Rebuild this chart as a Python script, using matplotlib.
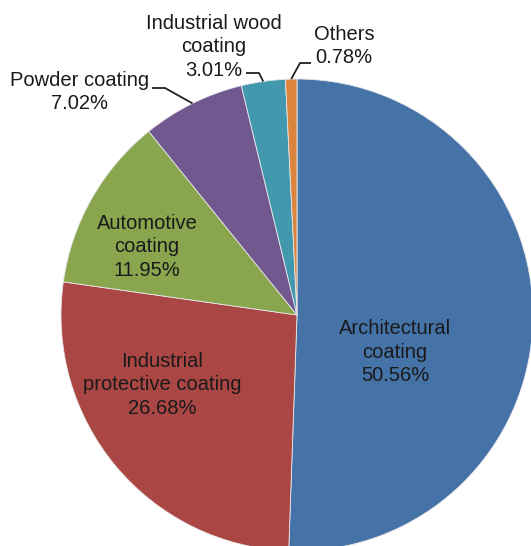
import numpy as np
import matplotlib
matplotlib.use("Agg")
import matplotlib.pyplot as plt

plt.rcParams['font.family'] = ['Liberation Sans', 'DejaVu Sans']

# coating market share, clockwise from 12 o'clock
categories = ["Architectural\ncoating", "Industrial\nprotective coating",
              "Automotive\ncoating", "Powder coating",
              "Industrial wood\ncoating", "Others"]
shares = [50.56, 26.68, 11.95, 7.02, 3.01, 0.78]
colors = ["#4572A7", "#AA4643", "#89A54E", "#71588F", "#4198AF", "#DB843D"]

W, H = 531, 546
cx, cy, R = 297, H - 315, 236

fig = plt.figure(figsize=(W / 100, H / 100), dpi=100)
ax = fig.add_axes([0, 0, 1, 1])

wedges, _ = ax.pie(shares, colors=colors, startangle=90, counterclock=False,
                   center=(cx, cy), radius=R,
                   wedgeprops=dict(edgecolor="#e8e8e8", linewidth=0.6))

ax.set_xlim(0, W)
ax.set_ylim(0, H)
ax.set_aspect("equal")
ax.axis("off")

# label layout: (text x, text y, leader elbow or None), pixel coords from top
layout = [
    (395, 352, None),
    (162, 385, None),
    (147, 247, None),
    (80, 92, [(152, 88), (165, 88)]),
    (214, 47, [(246, 73), (259, 73)]),
    (344, 46, [(311, 63), (300, 63)]),
]

for w, name, val, (tx, ty, elbow) in zip(wedges, categories, shares, layout):
    ax.text(tx, H - ty, f"{name}\n{val:.2f}%", ha="center", va="center",
            fontsize=14.5, color="#1a1a1a", linespacing=1.3)
    if elbow:
        mid = np.deg2rad((w.theta1 + w.theta2) / 2)
        ex = cx + R * np.cos(mid)
        ey = cy + R * np.sin(mid)
        xs = [p[0] for p in elbow] + [ex]
        ys = [H - p[1] for p in elbow] + [ey]
        ax.plot(xs, ys, color="#222222", lw=1.3, solid_capstyle="butt")

fig.savefig("out.png", dpi=100)
